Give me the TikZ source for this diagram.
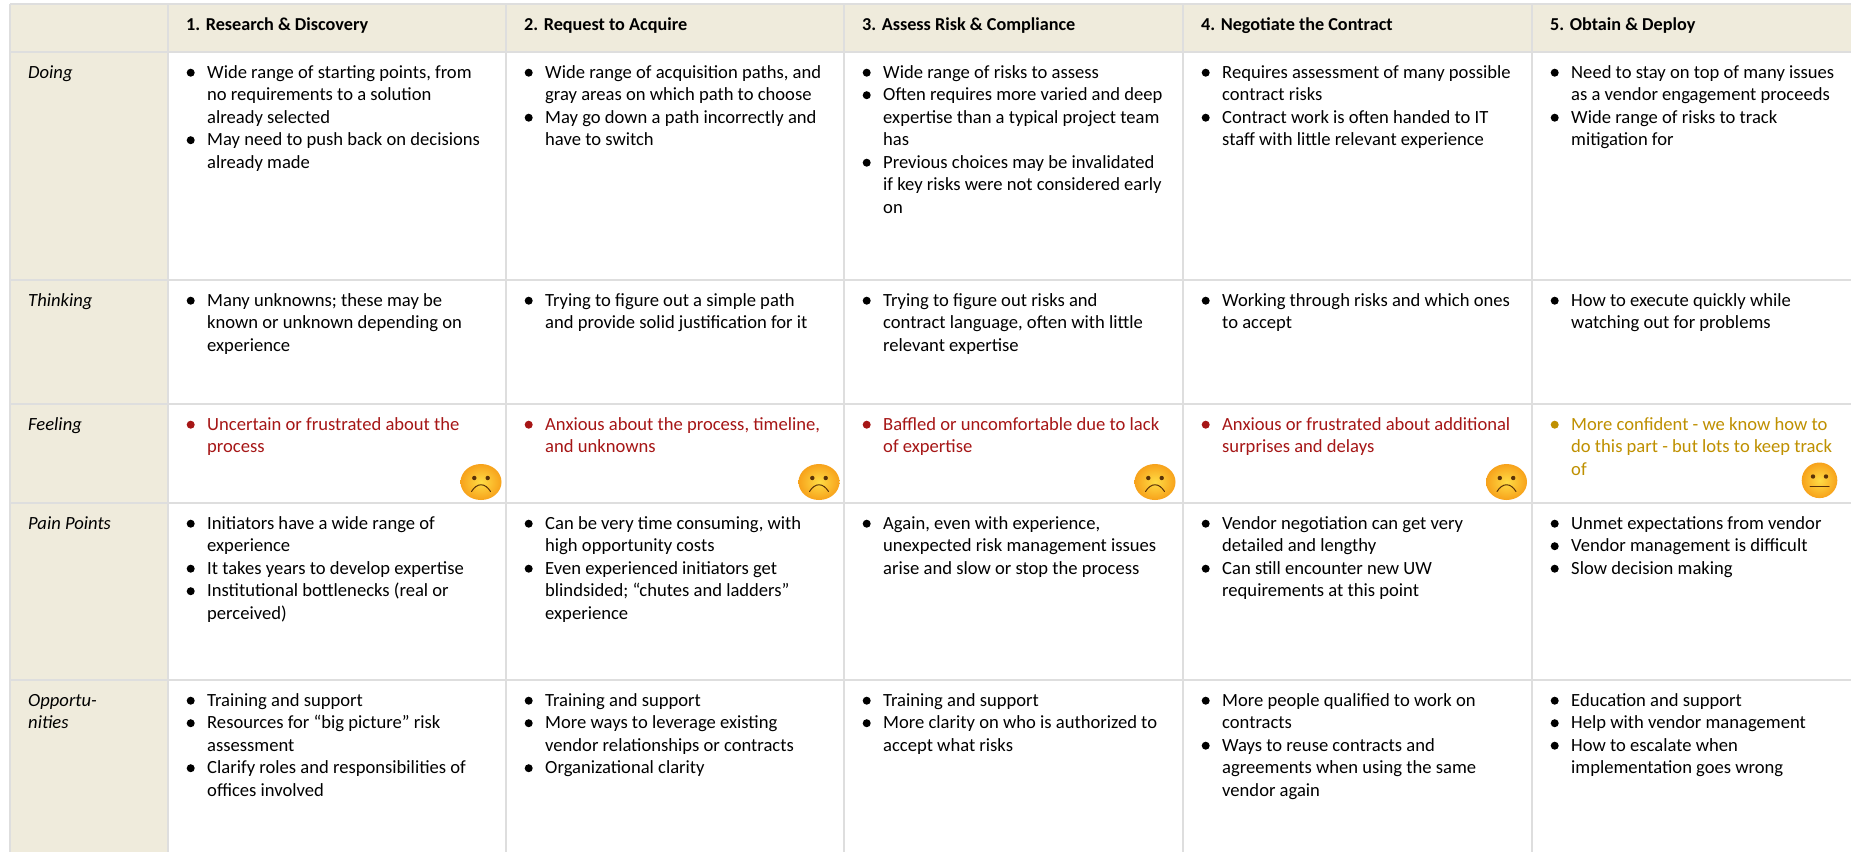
\documentclass[tikz,border=0pt]{standalone}
\usepackage{fontspec}
\setmainfont{Carlito}
\definecolor{hdr}{HTML}{EFEBDC}
\definecolor{rule}{HTML}{DEDEDE}
\definecolor{sadred}{HTML}{A61616}
\definecolor{midyel}{HTML}{BF9000}
\definecolor{ink}{HTML}{000000}
\definecolor{faceinner}{HTML}{FFDC45}
\definecolor{faceouter}{HTML}{F7A21B}
\definecolor{facemark}{HTML}{5A3208}
\tikzset{
  x=1pt,y=-1pt,
  celltext/.style={anchor=north west,inner sep=0pt,align=left,text=ink,font=\fontsize{18.6}{22.5}\selectfont},
  headtext/.style={anchor=base west,inner sep=0pt,text=ink,font=\fontsize{18.2}{22.5}\selectfont\bfseries},
  rowlabel/.style={celltext,font=\fontsize{18.6}{22.5}\selectfont\itshape},
  gridline/.style={draw=rule,line width=2.8pt},
  facemouth/.style={draw=facemark,line width=1pt,line cap=round},
  faceball/.style={inner color=faceinner,outer color=faceouter},
}
% bullet: name, column x, baseline y of the first line, colour, text
\newcommand{\blt}[5]{%
  \fill[#4] (#2+22.7,#3-5.3) circle (4);
  \node[celltext,text=#4] (#1) at (#2+39,#3-15.75) {\strut #5};
}
\begin{document}
\begin{tikzpicture}
\useasboundingbox (0,0) rectangle (1851,852);
\fill[white] (0,0) rectangle (1851,852);
\fill[hdr] (10,4) rectangle (1851,52);
\fill[hdr] (10,4) rectangle (168,852);
\foreach \yy in {4,52,280,404,503,680} \draw[gridline] (10,\yy) -- (1851,\yy);
\foreach \xx in {10,168,506,844,1183,1532} \draw[gridline] (\xx,4) -- (\xx,852);

\node[headtext] (h1) at (186,30) {1. Research \& Discovery};
\node[headtext] (h2) at (524,30) {2. Request to Acquire};
\node[headtext] (h3) at (862,30) {3. Assess Risk \& Compliance};
\node[headtext] (h4) at (1201,30) {4. Negotiate the Contract};
\node[headtext] (h5) at (1550,30) {5. Obtain \& Deploy};

\node[rowlabel] (r1) at (28,62.25) {\strut Doing};
\node[rowlabel] (r2) at (28,290.25) {\strut Thinking};
\node[rowlabel] (r3) at (28,414.25) {\strut Feeling};
\node[rowlabel] (r4) at (28,513.25) {\strut Pain Points};
\node[rowlabel] (r5) at (28,690.25) {\strut Opportu-\\nities};

% Doing
\blt{d1a}{168}{78}{ink}{Wide range of starting points, from\\no requirements to a solution\\already selected}
\blt{d1b}{168}{145.5}{ink}{May need to push back on decisions\\already made}
\blt{d2a}{506}{78}{ink}{Wide range of acquisition paths, and\\gray areas on which path to choose}
\blt{d2b}{506}{123}{ink}{May go down a path incorrectly and\\have to switch}
\blt{d3a}{844}{78}{ink}{Wide range of risks to assess}
\blt{d3b}{844}{100.5}{ink}{Often requires more varied and deep\\expertise than a typical project team\\has}
\blt{d3c}{844}{168}{ink}{Previous choices may be invalidated\\if key risks were not considered early\\on}
\blt{d4a}{1183}{78}{ink}{Requires assessment of many possible\\contract risks}
\blt{d4b}{1183}{123}{ink}{Contract work is often handed to IT\\staff with little relevant experience}
\blt{d5a}{1532}{78}{ink}{Need to stay on top of many issues\\as a vendor engagement proceeds}
\blt{d5b}{1532}{123}{ink}{Wide range of risks to track\\mitigation for}

% Thinking
\blt{t1}{168}{306}{ink}{Many unknowns; these may be\\known or unknown depending on\\experience}
\blt{t2}{506}{306}{ink}{Trying to figure out a simple path\\and provide solid justification for it}
\blt{t3}{844}{306}{ink}{Trying to figure out risks and\\contract language, often with little\\relevant expertise}
\blt{t4}{1183}{306}{ink}{Working through risks and which ones\\to accept}
\blt{t5}{1532}{306}{ink}{How to execute quickly while\\watching out for problems}

% Feeling
\blt{f1}{168}{430}{sadred}{Uncertain or frustrated about the\\process}
\blt{f2}{506}{430}{sadred}{Anxious about the process, timeline,\\and unknowns}
\blt{f3}{844}{430}{sadred}{Baffled or uncomfortable due to lack\\of expertise}
\blt{f4}{1183}{430}{sadred}{Anxious or frustrated about additional\\surprises and delays}
\blt{f5}{1532}{430}{midyel}{More confident - we know how to\\do this part - but lots to keep track\\of}

% Pain Points
\blt{p1a}{168}{529}{ink}{Initiators have a wide range of\\experience}
\blt{p1b}{168}{574}{ink}{It takes years to develop expertise}
\blt{p1c}{168}{596.5}{ink}{Institutional bottlenecks (real or\\perceived)}
\blt{p2a}{506}{529}{ink}{Can be very time consuming, with\\high opportunity costs}
\blt{p2b}{506}{574}{ink}{Even experienced initiators get\\blindsided; “chutes and ladders”\\experience}
\blt{p3a}{844}{529}{ink}{Again, even with experience,\\unexpected risk management issues\\arise and slow or stop the process}
\blt{p4a}{1183}{529}{ink}{Vendor negotiation can get very\\detailed and lengthy}
\blt{p4b}{1183}{574}{ink}{Can still encounter new UW\\requirements at this point}
\blt{p5a}{1532}{529}{ink}{Unmet expectations from vendor}
\blt{p5b}{1532}{551.5}{ink}{Vendor management is difficult}
\blt{p5c}{1532}{574}{ink}{Slow decision making}

% Opportunities
\blt{o1a}{168}{706}{ink}{Training and support}
\blt{o1b}{168}{728.5}{ink}{Resources for “big picture” risk\\assessment}
\blt{o1c}{168}{773.5}{ink}{Clarify roles and responsibilities of\\offices involved}
\blt{o2a}{506}{706}{ink}{Training and support}
\blt{o2b}{506}{728.5}{ink}{More ways to leverage existing\\vendor relationships or contracts}
\blt{o2c}{506}{773.5}{ink}{Organizational clarity}
\blt{o3a}{844}{706}{ink}{Training and support}
\blt{o3b}{844}{728.5}{ink}{More clarity on who is authorized to\\accept what risks}
\blt{o4a}{1183}{706}{ink}{More people qualified to work on\\contracts}
\blt{o4b}{1183}{751}{ink}{Ways to reuse contracts and\\agreements when using the same\\vendor again}
\blt{o5a}{1532}{706}{ink}{Education and support}
\blt{o5b}{1532}{728.5}{ink}{Help with vendor management}
\blt{o5c}{1532}{751}{ink}{How to escalate when\\implementation goes wrong}

% Emoji
\foreach \ex in {481,819,1155,1506.5}{
  \shade[faceball] (\ex,482) ellipse (20.5 and 18);
  \fill[facemark] (\ex-6.7,478) circle (2.2);
  \fill[facemark] (\ex+6.7,478) circle (2.2);
  \draw[facemouth] (\ex-9.5,491.5) .. controls (\ex-4,482.5) and (\ex+4,482.5) .. (\ex+9.5,491.5);
}
\shade[faceball] (1819.5,480.3) circle (17.8);
\fill[facemark] (1813,476.5) circle (2.2);
\fill[facemark] (1826,476.5) circle (2.2);
\draw[facemouth] (1810,486) -- (1829,486);
\end{tikzpicture}
\end{document}
